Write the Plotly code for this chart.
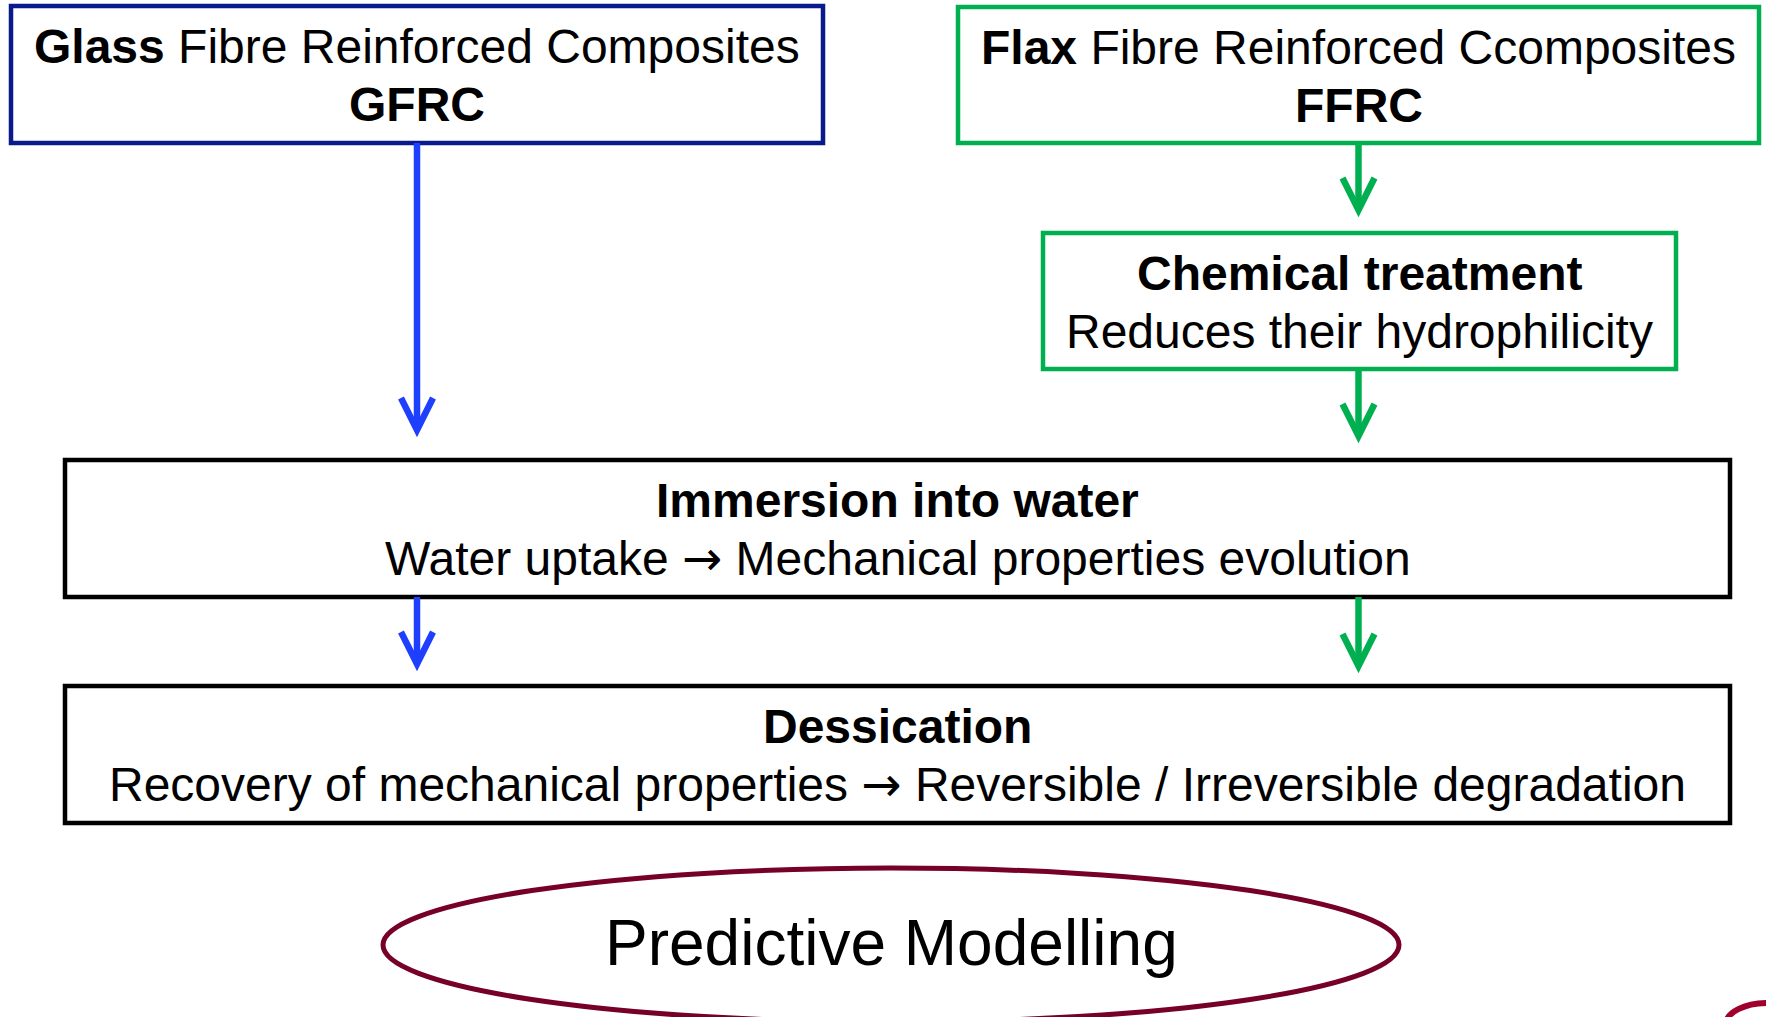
import plotly.graph_objects as go

# diagram texts
header_bold = ["Glass", "Flax"]
header_rest = ["Fibre Reinforced Composites", "Fibre Reinforced Ccomposites"]
header_abbr = ["GFRC", "FFRC"]
step_titles = ["Chemical treatment", "Immersion into water", "Dessication"]
step_details = [
    "Reduces their hydrophilicity",
    "Water uptake \u2192 Mechanical properties evolution",
    "Recovery of mechanical properties \u2192 Reversible / Irreversible degradation",
]
outcome_label = "Predictive Modelling"

W, H = 1766, 1017
FONT = "Arial, Liberation Sans, sans-serif"
NAVY = "#0A1A8C"
BLUE = "#1F3FFF"
GREEN = "#00B050"
WINE = "#760028"

# layout geometry (x0, y0, x1, y1) in pixels, y downwards
header_boxes = [(11, 6, 823, 143), (958, 7, 1759, 143)]
header_colors = [NAVY, GREEN]
step_boxes = [(1043, 233, 1676, 369), (65, 460, 1730, 597), (65, 686, 1730, 823)]
step_colors = [GREEN, "#000000", "#000000"]
ellipse_box = (383, 868, 1399, 1022)

fig = go.Figure()


def box(x0, y0, x1, y1, color, width=4.5):
    fig.add_shape(type="rect", x0=x0, y0=y0, x1=x1, y1=y1,
                  line=dict(color=color, width=width), fillcolor="white", layer="below")


def label(text, x, y, size=48):
    # wider arrow glyph like the original slide
    text = text.replace("\u2192", "<span style='font-family:DejaVu Sans'>\u2192</span>")
    fig.add_annotation(x=x, y=y, text=text, showarrow=False, xanchor="center", yanchor="middle",
                       font=dict(family=FONT, size=size, color="black"))


def arrow(x, y0, y1, color, w=6.5, hw=16, hh=32):
    fig.add_shape(type="line", x0=x, x1=x, y0=y0, y1=y1 - 3, line=dict(color=color, width=w))
    fig.add_shape(type="path", path=f"M {x - hw},{y1 - hh} L {x},{y1} L {x + hw},{y1 - hh}",
                  line=dict(color=color, width=w))


for (x0, y0, x1, y1), c, b, r, a in zip(header_boxes, header_colors, header_bold, header_rest, header_abbr):
    box(x0, y0, x1, y1, c)
    cx = (x0 + x1) / 2
    label(f"<b>{b}</b> {r}", cx, y0 + 40)
    label(f"<b>{a}</b>", cx, y0 + 98)

for (x0, y0, x1, y1), c, t, d in zip(step_boxes, step_colors, step_titles, step_details):
    box(x0, y0, x1, y1, c)
    cx = (x0 + x1) / 2
    label(f"<b>{t}</b>", cx, y0 + 40)
    label(d, cx, y0 + 98)

# arrows
gx = (header_boxes[0][0] + header_boxes[0][2]) / 2
fx = (header_boxes[1][0] + header_boxes[1][2]) / 2
arrow(gx, header_boxes[0][3], 430, BLUE)
arrow(fx, header_boxes[1][3], 210, GREEN)
arrow(fx, step_boxes[0][3], 436, GREEN)
arrow(gx, step_boxes[1][3], 664, BLUE)
arrow(fx, step_boxes[1][3], 666, GREEN)

# outcome ellipse
ex0, ey0, ex1, ey1 = ellipse_box
fig.add_shape(type="circle", x0=ex0, y0=ey0, x1=ex1, y1=ey1, line=dict(color=WINE, width=5))
label(outcome_label, (ex0 + ex1) / 2, 943, size=64)

# logo fragment in the corner
fig.add_shape(type="circle", x0=1726, y0=1003, x1=1810, y1=1045, line=dict(color="#A0002C", width=6))

fig.update_xaxes(range=[0, W], visible=False, fixedrange=True)
fig.update_yaxes(range=[H, 0], visible=False, fixedrange=True)
fig.update_layout(width=W, height=H, margin=dict(l=0, r=0, t=0, b=0),
                  plot_bgcolor="white", paper_bgcolor="white", showlegend=False)

fig.write_html("out.html", config={"displayModeBar": False},
               post_script="document.body.style.margin='0';")
